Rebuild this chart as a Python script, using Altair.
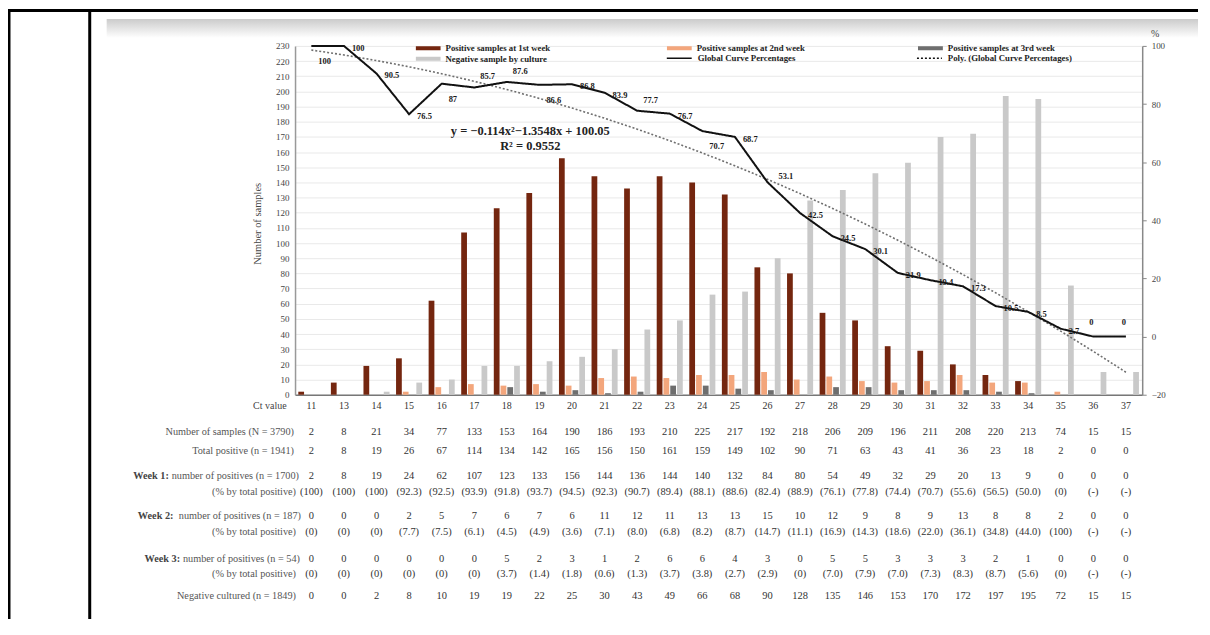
import altair as alt
import pandas as pd

# ---------------- data ----------------
ct = ["11", "13", "14", "15", "16", "17", "18", "19", "20", "21", "22", "23", "24",
      "25", "26", "27", "28", "29", "30", "31", "32", "33", "34", "35", "36", "37"]
n_samples = [2, 8, 21, 34, 77, 133, 153, 164, 190, 186, 193, 210, 225, 217, 192, 218,
             206, 209, 196, 211, 208, 220, 213, 74, 15, 15]
total_pos = [2, 8, 19, 26, 67, 114, 134, 142, 165, 156, 150, 161, 159, 149, 102, 90,
             71, 63, 43, 41, 36, 23, 18, 2, 0, 0]
wk1 = [2, 8, 19, 24, 62, 107, 123, 133, 156, 144, 136, 144, 140, 132, 84, 80, 54, 49,
       32, 29, 20, 13, 9, 0, 0, 0]
wk1_pct = ["(100)", "(100)", "(100)", "(92.3)", "(92.5)", "(93.9)", "(91.8)", "(93.7)",
           "(94.5)", "(92.3)", "(90.7)", "(89.4)", "(88.1)", "(88.6)", "(82.4)", "(88.9)",
           "(76.1)", "(77.8)", "(74.4)", "(70.7)", "(55.6)", "(56.5)", "(50.0)", "(0)",
           "(-)", "(-)"]
wk2 = [0, 0, 0, 2, 5, 7, 6, 7, 6, 11, 12, 11, 13, 13, 15, 10, 12, 9, 8, 9, 13, 8, 8, 2, 0, 0]
wk2_pct = ["(0)", "(0)", "(0)", "(7.7)", "(7.5)", "(6.1)", "(4.5)", "(4.9)", "(3.6)",
           "(7.1)", "(8.0)", "(6.8)", "(8.2)", "(8.7)", "(14.7)", "(11.1)", "(16.9)",
           "(14.3)", "(18.6)", "(22.0)", "(36.1)", "(34.8)", "(44.0)", "(100)", "(-)", "(-)"]
wk3 = [0, 0, 0, 0, 0, 0, 5, 2, 3, 1, 2, 6, 6, 4, 3, 0, 5, 5, 3, 3, 3, 2, 1, 0, 0, 0]
wk3_pct = ["(0)", "(0)", "(0)", "(0)", "(0)", "(0)", "(3.7)", "(1.4)", "(1.8)", "(0.6)",
           "(1.3)", "(3.7)", "(3.8)", "(2.7)", "(2.9)", "(0)", "(7.0)", "(7.9)", "(7.0)",
           "(7.3)", "(8.3)", "(8.7)", "(5.6)", "(0)", "(-)", "(-)"]
neg = [0, 0, 2, 8, 10, 19, 19, 22, 25, 30, 43, 49, 66, 68, 90, 128, 135, 146, 153, 170,
       172, 197, 195, 72, 15, 15]
global_pct = [100, 100, 90.5, 76.5, 87, 85.7, 87.6, 86.6, 86.8, 83.9, 77.7, 76.7, 70.7,
              68.7, 53.1, 42.5, 34.5, 30.1, 21.9, 19.4, 17.3, 10.5, 8.5, 2.7, 0, 0]

series_names = ["Positive samples at 1st week", "Positive samples at 2nd week",
                "Positive samples at 3rd week", "Negative sample by culture"]
line_names = ["Global Curve Percentages", "Poly. (Global Curve Percentages)"]
equation_text = ["y = \u22120.114x\u00b2\u22121.3548x + 100.05", "R\u00b2 = 0.9552"]
pct_axis_title = "%"

row_labels = ["Number of samples (N = 3790)", "Total positive (n = 1941)",
              "number of positives (n = 1700)", "(% by total positive)",
              "number of positives  (n = 187)", "(% by total positive)",
              "number of positives (n = 54)", "(% by total positive)",
              "Negative cultured (n = 1849)"]
week_prefix = ["Week 1:", "Week 2:", "Week 3:"]

# ---------------- styling ----------------
SERIF = "Liberation Serif"
W, H = 850, 350
series_colors = ["#74260f", "#f3a67c", "#6e6e6e", "#c9c9c9"]

df = pd.DataFrame({
    "Ct": ct, "idx": list(range(1, len(ct) + 1)), "pct": global_pct,
    "N": n_samples, "T": total_pos, "W1": wk1, "W1p": wk1_pct, "W2": wk2, "W2p": wk2_pct,
    "W3": wk3, "W3p": wk3_pct, "NEG": neg,
})
bars_df = pd.DataFrame({
    "Ct": ct * 4,
    "series": [s for s in series_names for _ in ct],
    "count": wk1 + wk2 + wk3 + neg,
})

xband = alt.Scale(type="band", domain=ct, paddingInner=0.2, paddingOuter=0.1)
xpoint = alt.Scale(type="point", domain=ct, padding=0.5)
ypct = alt.Scale(domain=[-20, 100], nice=False, zero=False)

bars = alt.Chart(bars_df).mark_bar().encode(
    x=alt.X("Ct:N", scale=xband, axis=alt.Axis(
        title="Ct value", titleX=-9, titleY=11, titleAlign="right", titleBaseline="middle",
        titleFont=SERIF, titleFontSize=10, titleFontWeight="normal", titleColor="#444",
        labelAngle=0, labelFont=SERIF, labelFontSize=10, labelColor="#333",
        labelBaseline="middle", labelPadding=11, ticks=False, tickSize=0,
        domainColor="#777", domainWidth=1.5, grid=False)),
    xOffset=alt.XOffset("series:N", scale=alt.Scale(domain=series_names, paddingInner=0.15,
                                                    paddingOuter=0)),
    y=alt.Y("count:Q", scale=alt.Scale(domain=[0, 230], nice=False), axis=alt.Axis(
        orient="left", values=list(range(0, 231, 10)), title="Number of samples",
        titleX=-38, titleY=178, titleAngle=270, titleAlign="center", titleBaseline="middle",
        titleFont=SERIF, titleFontSize=10.5, titleFontWeight="normal", titleColor="#444",
        labelFont=SERIF, labelFontSize=9, labelColor="#444", labelPadding=6,
        ticks=False, tickSize=0, domainColor="#999", domainWidth=1.5,
        grid=True, gridColor="#e9e9e9", gridWidth=1)),
    color=alt.Color("series:N", scale=alt.Scale(domain=series_names, range=series_colors),
                    legend=alt.Legend(
                        title=None, orient="none", legendX=121, legendY=-2.5, columns=3,
                        direction="horizontal", values=series_names,
                        symbolType="M-1,-0.16L1,-0.16L1,0.16L-1,0.16Z", symbolSize=625,
                        symbolStrokeWidth=0, labelFont=SERIF, labelFontSize=8.8,
                        labelFontWeight="bold", labelColor="#222", clipHeight=9,
                        rowPadding=1, columnPadding=113, gridAlign="all", labelOffset=5,
                        padding=0)),
)

dash_scale = alt.Scale(domain=line_names, range=[[1, 0], [2, 2]])
dash_legend = alt.Legend(title=None, orient="none", legendX=372, legendY=7.5, columns=2,
                         direction="horizontal",
                         symbolType="stroke", symbolSize=625, symbolStrokeWidth=1.5,
                         symbolStrokeColor="#111", labelFont=SERIF, labelFontSize=8.8,
                         labelFontWeight="bold", labelColor="#222", clipHeight=9,
                         rowPadding=1, columnPadding=120, gridAlign="each", labelOffset=5,
                         padding=0)

trend = alt.Chart(df).transform_regression(
    "idx", "pct", method="poly", order=2
).transform_calculate(kind=f"'{line_names[1]}'").mark_line(
    color="#6f6f6f", strokeWidth=1.6).encode(
    x=alt.X("idx:Q", scale=alt.Scale(domain=[0.5, len(ct) + 0.5], nice=False, zero=False),
            axis=None),
    y=alt.Y("pct:Q", scale=ypct, axis=None),
    strokeDash=alt.StrokeDash("kind:N", scale=dash_scale, legend=dash_legend),
)

line = alt.Chart(df).transform_calculate(kind=f"'{line_names[0]}'").mark_line(
    color="#111", strokeWidth=2).encode(
    x=alt.X("Ct:N", scale=xpoint, axis=None),
    y=alt.Y("pct:Q", scale=ypct, axis=alt.Axis(
        orient="right", values=[-20, 0, 20, 40, 60, 80, 100], title=None,
        labelFont=SERIF, labelFontSize=9, labelColor="#444", labelPadding=5,
        tickSize=4, tickColor="#888", domainColor="#888", domainWidth=1.5, grid=False)),
    strokeDash=alt.StrokeDash("kind:N", scale=dash_scale, legend=dash_legend),
)

lab_above = ["17", "18", "22"]
lab_below = ["11", "16", "19", "24"]
lab_top = ["36", "37"]
lab_raised = ["26"]


def pct_labels(pred, **kw):
    return alt.Chart(df).transform_filter(pred).mark_text(
        font=SERIF, fontSize=8.5, fontWeight="bold", color="#1a1a1a", baseline="middle", **kw
    ).encode(
        x=alt.X("Ct:N", scale=xpoint, axis=None),
        y=alt.Y("pct:Q", scale=ypct, axis=None),
        text=alt.Text("pct:Q", format=".1~f"),
    )


special = lab_above + lab_below + lab_top + lab_raised
labels_right = pct_labels({"not": {"field": "Ct", "oneOf": special}},
                          align="left", dx=8, dy=2)
labels_above = pct_labels({"field": "Ct", "oneOf": lab_above}, align="left", dx=6, dy=-11)
labels_below = pct_labels({"field": "Ct", "oneOf": lab_below}, align="left", dx=7, dy=15)
labels_top = pct_labels({"field": "Ct", "oneOf": lab_top}, align="center", dx=-2, dy=-15)
labels_raised = pct_labels({"field": "Ct", "oneOf": lab_raised}, align="left", dx=11, dy=-6)

one = pd.DataFrame({"a": [0]})
equation = [
    alt.Chart(one).mark_text(font=SERIF, fontSize=12.5, fontWeight="bold", color="#222",
                             align="center", baseline="middle").encode(
        x=alt.value(236), y=alt.value(85 + 15 * i), text=alt.value(t))
    for i, t in enumerate(equation_text)
]
pct_title = alt.Chart(one).mark_text(font=SERIF, fontSize=10, color="#444",
                                     align="center", baseline="middle").encode(
    x=alt.value(863), y=alt.value(-12), text=alt.value(pct_axis_title))

# ---------------- table under the chart ----------------
row_fields = ["N", "T", "W1", "W1p", "W2", "W2p", "W3", "W3p", "NEG"]
row_y = [387, 406, 432, 448, 472, 488, 515, 530, 552]  # px from top of plot area
row_lx = [-1, -1, 4, 1, 6, 1, 5, 1, 1]                 # right edge of row labels
table = []
for f, yy, lab, lx in zip(row_fields, row_y, row_labels, row_lx):
    table.append(alt.Chart(df).mark_text(font=SERIF, fontSize=10.5, color="#333",
                                         baseline="middle").encode(
        x=alt.X("Ct:N", scale=xpoint, axis=None), y=alt.value(yy), text=f"{f}:N"))
    table.append(alt.Chart(one).mark_text(font=SERIF, fontSize=10.3, color="#555",
                                          align="right", baseline="middle").encode(
        x=alt.value(lx), y=alt.value(yy), text=alt.value(lab)))
prefix_x = [4 - 128 - 2.6, 6 - 125.4 - 2.6, 5 - 117.7 - 2.6]
for t, yy, xx in zip(week_prefix, [row_y[2], row_y[4], row_y[6]], prefix_x):
    table.append(alt.Chart(one).mark_text(font=SERIF, fontSize=10.3, fontWeight="bold",
                                          color="#444", align="right",
                                          baseline="middle").encode(
        x=alt.value(xx), y=alt.value(yy), text=alt.value(t)))

# ---------------- document frame ----------------
grad = alt.Gradient(gradient="linear", x1=0, x2=0, y1=0, y2=1,
                    stops=[alt.GradientStop(color="#cbcbcb", offset=0),
                           alt.GradientStop(color="#ffffff", offset=1)])
band = alt.Chart(one).mark_rect(fill=grad, strokeWidth=0).encode(
    x=alt.value(-189), x2=alt.value(906), y=alt.value(-27), y2=alt.value(-8))
frame = [
    alt.Chart(one).mark_rule(color="black", strokeWidth=3).encode(
        x=alt.value(-287), y=alt.value(-37), y2=alt.value(575)),
    alt.Chart(one).mark_rule(color="black", strokeWidth=3).encode(
        x=alt.value(-206), y=alt.value(-37), y2=alt.value(575)),
    alt.Chart(one).mark_rule(color="black", strokeWidth=3).encode(
        x=alt.value(-288), x2=alt.value(906), y=alt.value(-35.5)),
]

chart = alt.layer(
    band, *frame, bars, trend, line, labels_right, labels_above, labels_below, labels_top,
    labels_raised, *equation, pct_title, *table
).resolve_scale(
    x="independent", y="independent"
).properties(
    width=W, height=H,
    padding={"left": 288, "top": 37, "right": 60, "bottom": 225},
    autosize=alt.AutoSizeParams(type="none"),
    background="white",
).configure_view(stroke=None)

chart.save("out.html", embed_options={"renderer": "svg", "actions": False})
